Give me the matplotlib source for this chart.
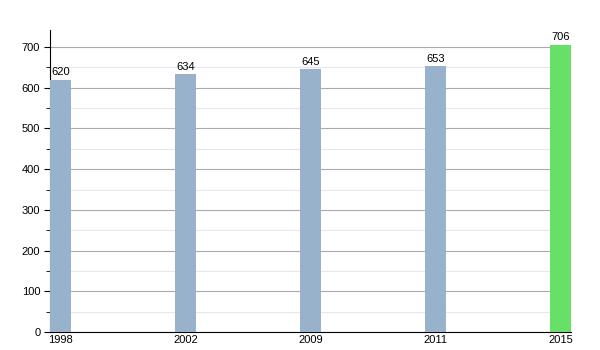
import matplotlib
matplotlib.use("Agg")
import matplotlib.pyplot as plt
import numpy as np
from matplotlib.ticker import MultipleLocator

years = ["1998", "2002", "2009", "2011", "2015"]
values = [620, 634, 645, 653, 706]
colors = ["#98b2cc", "#98b2cc", "#98b2cc", "#98b2cc", "#66e066"]

plt.rcParams["font.family"] = ["Liberation Sans", "DejaVu Sans"]

fig = plt.figure(figsize=(6, 3.5), dpi=100)
ax = fig.add_axes([50 / 600, 18 / 350, 521 / 600, 302 / 350])

x = np.arange(len(years))
w = 0.168
ax.bar(x, values, width=w, color=colors, zorder=3)

for xi, v in zip(x, values):
    ax.text(xi, v + 6, str(v), ha="center", va="bottom", fontsize=8, zorder=4)

ax.set_xlim(-w / 2, len(years) - 1 + w / 2)
ax.set_ylim(0, 742)
ax.yaxis.set_major_locator(MultipleLocator(100))
ax.yaxis.set_minor_locator(MultipleLocator(50))
ax.grid(axis="y", which="major", color="#aaaaaa", linewidth=0.8, zorder=1)
ax.grid(axis="y", which="minor", color="#e2e8ee", linewidth=0.8, zorder=1)

ax.set_xticks(x)
ax.set_xticklabels(years, fontsize=8)
ax.tick_params(axis="x", length=0, pad=2)
ax.tick_params(axis="y", which="major", length=4, labelsize=8, pad=3)
ax.tick_params(axis="y", which="minor", length=3)

for s in ["top", "right"]:
    ax.spines[s].set_visible(False)

fig.savefig("out.png", dpi=100)
